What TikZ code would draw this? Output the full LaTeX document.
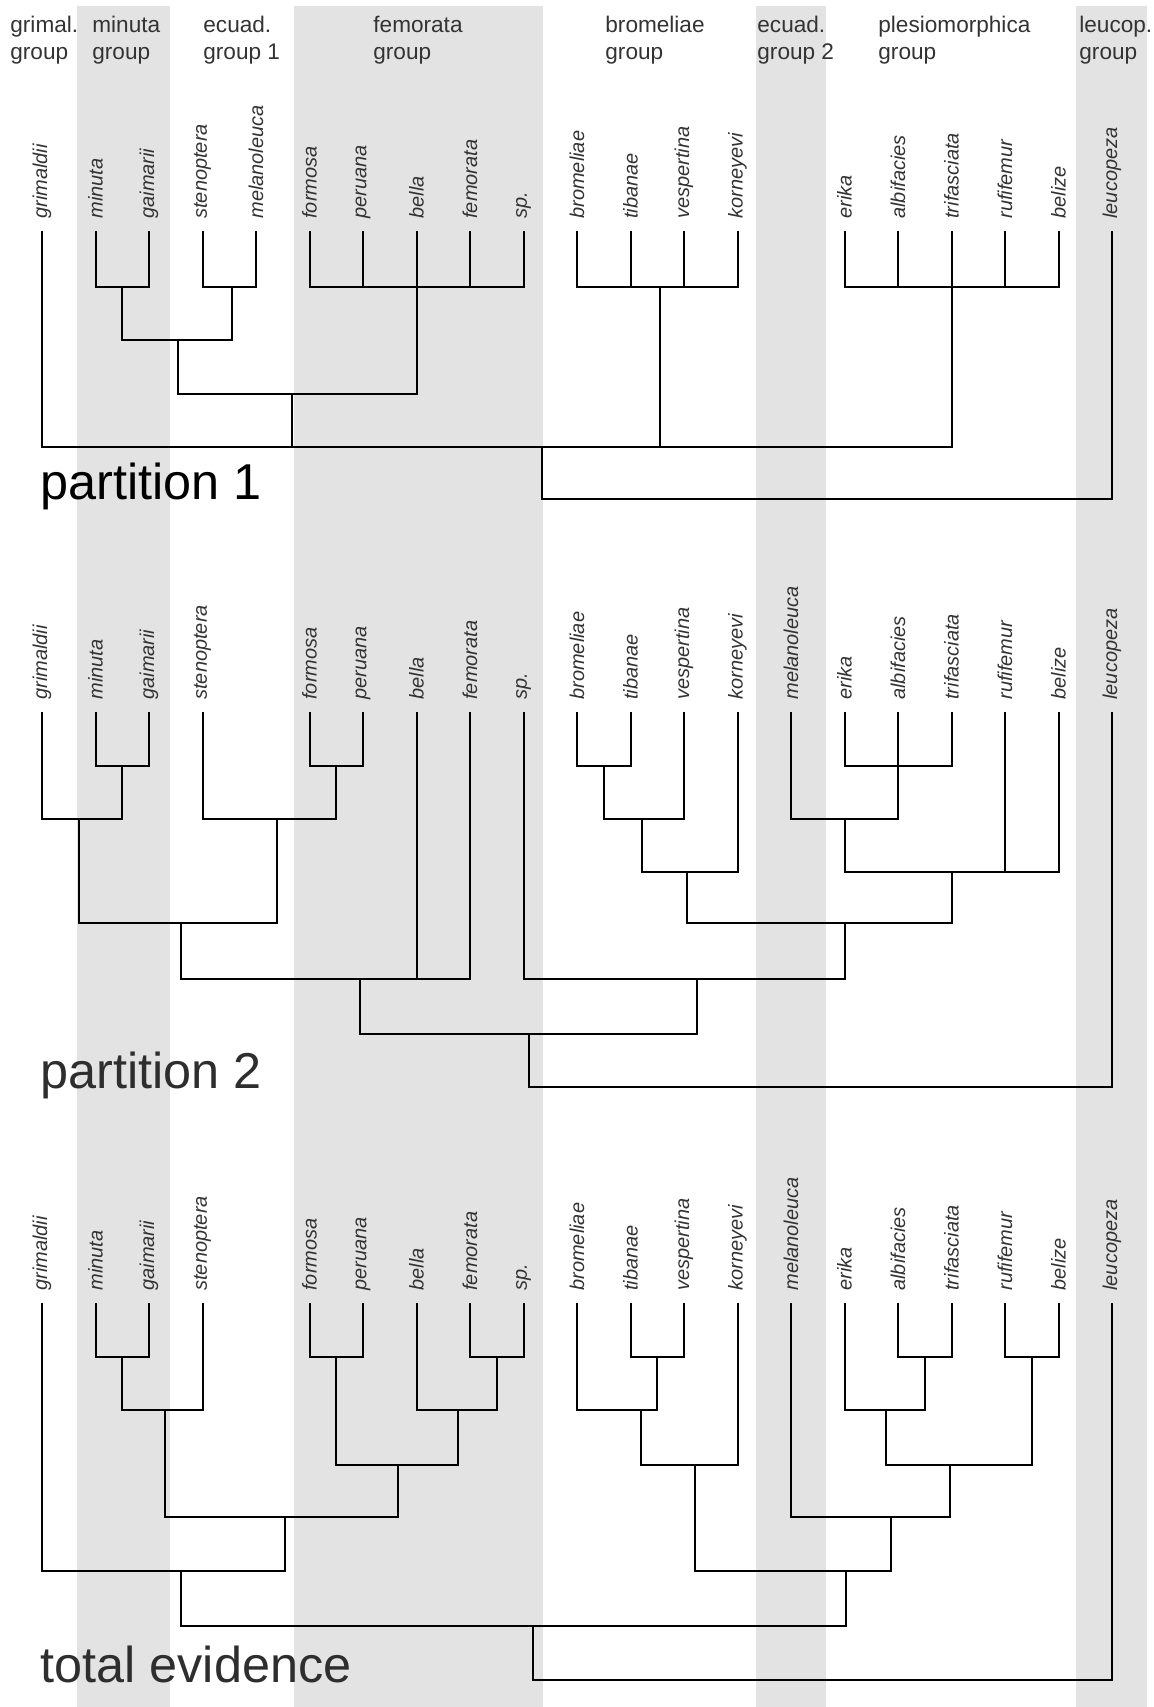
\documentclass[tikz,border=0pt]{standalone}
\usepackage{fontspec}
\setmainfont{Liberation Sans}
\usetikzlibrary{calc}
\newcommand{\cx}[1]{42+53.5*#1}

\begin{document}
\begin{tikzpicture}[x=0.5pt,y=-0.5pt,
  band/.style={fill=black!11,draw=none},
  branch/.style={black,line width=1pt},
  taxon/.style={rotate=90,anchor=west,inner sep=0pt,text=black!80,font=\fontsize{10}{12}\selectfont\itshape},
  grouplabel/.style={anchor=base west,align=left,inner sep=0pt,text=black!80,font=\fontsize{11.3}{13.5}\selectfont},
  title/.style={anchor=base west,inner sep=0pt,font=\fontsize{25.2}{30}\selectfont}]
\useasboundingbox (0,0) rectangle (1153,1707);

\foreach \a/\b in {77/170,294/543,756/826,1076/1147}
  \fill[band] (\a,6) rectangle (\b,1707);

\node[grouplabel] (ggrim) at (10,60) {grimal.\\group};
\node[grouplabel] (gmin) at (92,60) {minuta\\group};
\node[grouplabel] (gecu1) at (203,60) {ecuad.\\group 1};
\node[grouplabel] (gfem) at (373,60) {femorata\\group};
\node[grouplabel] (gbro) at (605,60) {bromeliae\\group};
\node[grouplabel] (gecu2) at (757,60) {ecuad.\\group 2};
\node[grouplabel] (gple) at (878,60) {plesiomorphica\\group};
\node[grouplabel] (gleu) at (1079,60) {leucop.\\group};

% partition 1
\foreach \i/\t in {0/grimaldii,1/minuta,2/gaimarii,3/stenoptera,4/melanoleuca,5/formosa,6/peruana,7/bella,8/femorata,9/sp.,10/bromeliae,11/tibanae,12/vespertina,13/korneyevi,15/erika,16/albifacies,17/trifasciata,18/rufifemur,19/belize,20/leucopeza}{
  \coordinate (a\i) at (\cx{\i},231);
  \node[taxon] (ta\i) at (\cx{\i},219) {\t};
}
\coordinate (an12) at (\cx{1.5},287);
\coordinate (an34) at (\cx{3.55},287);
\coordinate (an14) at (\cx{2.55},340);
\coordinate (an59) at (\cx{7},287);
\coordinate (an19) at (\cx{4.68},394);
\coordinate (an1013) at (\cx{11.55},287);
\coordinate (an1519) at (\cx{17},287);
\coordinate (an019) at (\cx{9.35},447);
\coordinate (aroot) at (\cx{14.7},499);

\draw[branch] (a1) |- (an12) -| (a2);
\draw[branch] (a3) |- (an34) -| (a4);
\draw[branch] (an12) |- (an14) -| (an34);
\draw[branch] (a5) |- (an59) -| (a9);
\draw[branch] (a7) -- (an59);
\foreach \i in {6,8} \draw[branch] (a\i) -- (a\i |- an59);
\draw[branch] (an14) |- (an19) -| (an59);
\draw[branch] (a10) |- (an1013) -| (a13);
\foreach \i in {11,12} \draw[branch] (a\i) -- (a\i |- an1013);
\draw[branch] (a15) |- (an1519) -| (a19);
\draw[branch] (a17) -- (an1519);
\foreach \i in {16,18} \draw[branch] (a\i) -- (a\i |- an1519);
\draw[branch] (a0) |- (an019) -| (an1519);
\draw[branch] (an19) -- (an19 |- an019);
\draw[branch] (an1013) -- (an1013 |- an019);
\draw[branch] (an019) |- (aroot) -| (a20);
\node[title] (tp1) at (40,499) {partition 1};

% partition 2
\foreach \i/\t in {0/grimaldii,1/minuta,2/gaimarii,3/stenoptera,5/formosa,6/peruana,7/bella,8/femorata,9/sp.,10/bromeliae,11/tibanae,12/vespertina,13/korneyevi,14/melanoleuca,15/erika,16/albifacies,17/trifasciata,18/rufifemur,19/belize,20/leucopeza}{
  \coordinate (b\i) at (\cx{\i},712);
  \node[taxon] (tb\i) at (\cx{\i},700) {\t};
}
\coordinate (bn12) at (\cx{1.5},766);
\coordinate (bn02) at (\cx{0.7},819);
\coordinate (bn56) at (\cx{5.5},766);
\coordinate (bn36) at (\cx{4.4},819);
\coordinate (bn06) at (\cx{2.6},923);
\coordinate (bn08) at (\cx{5.95},979);
\coordinate (bn1011) at (\cx{10.5},766);
\coordinate (bn1012) at (\cx{11.22},819);
\coordinate (bn1013) at (\cx{12.05},872);
\coordinate (bn1517) at (\cx{16},766);
\coordinate (bn1417) at (\cx{15},819);
\coordinate (bn1419) at (\cx{17},872);
\coordinate (bn1019) at (\cx{15},923);
\coordinate (bn919) at (\cx{12.25},979);
\coordinate (bn019) at (\cx{9.1},1034);
\coordinate (broot) at (\cx{14.5},1087);

\draw[branch] (b1) |- (bn12) -| (b2);
\draw[branch] (b0) |- (bn02) -| (bn12);
\draw[branch] (b5) |- (bn56) -| (b6);
\draw[branch] (b3) |- (bn36) -| (bn56);
\draw[branch] (bn02) |- (bn06) -| (bn36);
\draw[branch] (bn06) |- (bn08) -| (b8);
\draw[branch] (b7) -- (b7 |- bn08);
\draw[branch] (b10) |- (bn1011) -| (b11);
\draw[branch] (bn1011) |- (bn1012) -| (b12);
\draw[branch] (bn1012) |- (bn1013) -| (b13);
\draw[branch] (b15) |- (bn1517) -| (b17);
\draw[branch] (b16) -- (bn1517);
\draw[branch] (b14) |- (bn1417) -| (bn1517);
\draw[branch] (bn1417) |- (bn1419) -| (b19);
\draw[branch] (b18) -- (b18 |- bn1419);
\draw[branch] (bn1013) |- (bn1019) -| (bn1419);
\draw[branch] (b9) |- (bn919) -| (bn1019);
\draw[branch] (bn08) |- (bn019) -| (bn919);
\draw[branch] (bn019) |- (broot) -| (b20);
\node[title,text=black!82] (tp2) at (40,1088) {partition 2};

% total evidence
\foreach \i/\t in {0/grimaldii,1/minuta,2/gaimarii,3/stenoptera,5/formosa,6/peruana,7/bella,8/femorata,9/sp.,10/bromeliae,11/tibanae,12/vespertina,13/korneyevi,14/melanoleuca,15/erika,16/albifacies,17/trifasciata,18/rufifemur,19/belize,20/leucopeza}{
  \coordinate (c\i) at (\cx{\i},1303);
  \node[taxon] (tc\i) at (\cx{\i},1291) {\t};
}
\coordinate (cn12) at (\cx{1.5},1357);
\coordinate (cn13) at (\cx{2.3},1410);
\coordinate (cn56) at (\cx{5.5},1357);
\coordinate (cn89) at (\cx{8.5},1357);
\coordinate (cn79) at (\cx{7.78},1410);
\coordinate (cn59) at (\cx{6.65},1465);
\coordinate (cn19) at (\cx{4.55},1517);
\coordinate (cn09) at (\cx{2.6},1571);
\coordinate (cn1112) at (\cx{11.5},1357);
\coordinate (cn1012) at (\cx{11.2},1410);
\coordinate (cn1013) at (\cx{12.2},1465);
\coordinate (cn1617) at (\cx{16.5},1357);
\coordinate (cn1517) at (\cx{15.78},1410);
\coordinate (cn1819) at (\cx{18.5},1357);
\coordinate (cn1519) at (\cx{16.97},1465);
\coordinate (cn1419) at (\cx{15.87},1517);
\coordinate (cn1019) at (\cx{15.03},1571);
\coordinate (cn019) at (\cx{9.18},1626);
\coordinate (croot) at (\cx{14.6},1680);

\draw[branch] (c1) |- (cn12) -| (c2);
\draw[branch] (cn12) |- (cn13) -| (c3);
\draw[branch] (c5) |- (cn56) -| (c6);
\draw[branch] (c8) |- (cn89) -| (c9);
\draw[branch] (c7) |- (cn79) -| (cn89);
\draw[branch] (cn56) |- (cn59) -| (cn79);
\draw[branch] (cn13) |- (cn19) -| (cn59);
\draw[branch] (c0) |- (cn09) -| (cn19);
\draw[branch] (c11) |- (cn1112) -| (c12);
\draw[branch] (c10) |- (cn1012) -| (cn1112);
\draw[branch] (cn1012) |- (cn1013) -| (c13);
\draw[branch] (c16) |- (cn1617) -| (c17);
\draw[branch] (c15) |- (cn1517) -| (cn1617);
\draw[branch] (c18) |- (cn1819) -| (c19);
\draw[branch] (cn1517) |- (cn1519) -| (cn1819);
\draw[branch] (c14) |- (cn1419) -| (cn1519);
\draw[branch] (cn1013) |- (cn1019) -| (cn1419);
\draw[branch] (cn09) |- (cn019) -| (cn1019);
\draw[branch] (cn019) |- (croot) -| (c20);
\node[title,text=black!82] (tte) at (40,1682) {total evidence};

\end{tikzpicture}
\end{document}
